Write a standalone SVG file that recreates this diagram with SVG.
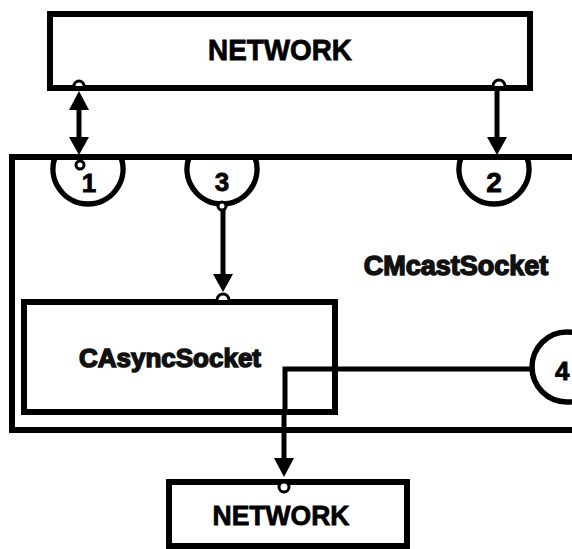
<svg xmlns="http://www.w3.org/2000/svg" width="572" height="549" viewBox="0 0 572 549">
<style>
.box{fill:none;stroke:#000;stroke-width:6}
.ring{fill:none;stroke:#000;stroke-width:5.5}
.wire{fill:none;stroke:#000;stroke-width:5}
.port{fill:#fff;stroke:#000;stroke-width:3}
.head{fill:#000;stroke:none}
.lbl{font-family:"Liberation Sans","DejaVu Sans",Arial,sans-serif;font-weight:bold;fill:#000;stroke:#000;stroke-width:0.8}
.big{font-family:"Liberation Sans",Arial,sans-serif;font-weight:bold;fill:#111;stroke:#111;stroke-width:1.5}
</style>
<rect width="572" height="549" fill="#fff"/>

<g id="network-top">
<rect class="box" x="50" y="14" width="480" height="74"/>
<text class="lbl" x="280" y="60" font-size="30" text-anchor="middle" textLength="144" lengthAdjust="spacingAndGlyphs">NETWORK</text>
<path class="port" d="M74 86 A5 5 0 0 1 84 86"/>
<path class="port" d="M493 86 A6 6 0 0 1 505 86"/>
</g>

<g id="cmcastsocket">
<path class="box" d="M576 157 H12 V430 H576"/>
<text class="big" x="456" y="275" font-size="27" text-anchor="middle">CMcastSocket</text>
</g>

<g id="port-1">
<path class="ring" d="M55.1 157 A35 35 0 1 0 120.9 157"/>
<text class="lbl" x="89" y="192" font-size="26" text-anchor="middle">1</text>
<circle class="port" cx="80" cy="165" r="4"/>
</g>

<g id="port-3">
<path class="ring" d="M189.1 157 A35 35 0 1 0 254.9 157"/>
<text class="lbl" x="222" y="191" font-size="26" text-anchor="middle">3</text>
</g>

<g id="port-2">
<path class="ring" d="M461.1 157 A35 35 0 1 0 526.9 157"/>
<text class="lbl" x="494" y="192" font-size="28" text-anchor="middle">2</text>
</g>

<g id="casyncsocket">
<rect class="box" x="24" y="302" width="311" height="110"/>
<text class="big" x="170" y="367" font-size="26" text-anchor="middle">CAsyncSocket</text>
</g>

<g id="port-4">
<circle class="ring" cx="567" cy="367" r="35"/>
<text class="lbl" x="555" y="380" font-size="26">4</text>
</g>

<g id="network-bottom">
<rect class="box" x="169" y="482" width="238" height="64"/>
<text class="lbl" x="281" y="525" font-size="28" text-anchor="middle" textLength="137" lengthAdjust="spacingAndGlyphs">NETWORK</text>
</g>

<g id="connectors">
<line class="wire" x1="79" y1="108" x2="79" y2="139"/>
<polygon class="head" points="79,91 69,110 89,110"/>
<polygon class="head" points="79,155 69,137 89,137"/>

<line class="wire" x1="497" y1="88" x2="497" y2="139"/>
<polygon class="head" points="497,155 487,137 507,137"/>

<line class="wire" x1="223" y1="208" x2="223" y2="276"/>
<polygon class="head" points="223,292 213,274 233,274"/>
<circle class="port" cx="222" cy="206" r="4"/>
<path class="port" d="M217 300 A6 6 0 0 1 229 300"/>

<path class="wire" d="M285 412 V369 H533"/>
<line class="wire" x1="284" y1="410" x2="284" y2="460"/>
<polygon class="head" points="284,477 274,458 294,458"/>
<circle class="port" cx="284" cy="487" r="5"/>
</g>
</svg>
